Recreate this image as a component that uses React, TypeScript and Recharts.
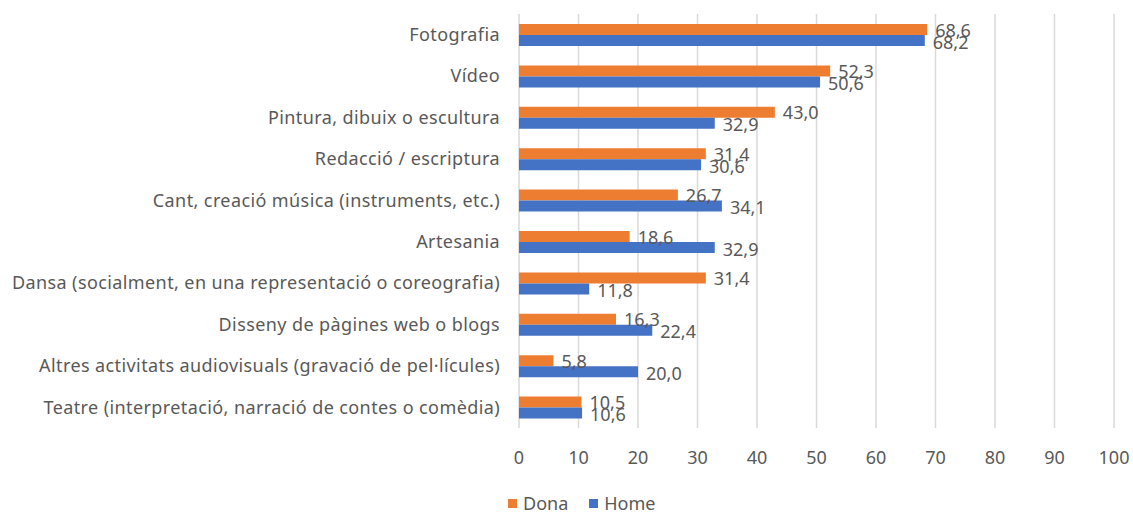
import { BarChart, Bar, XAxis, YAxis, CartesianGrid, Legend, LabelList } from "recharts";

const categories = [
  "Fotografia",
  "Vídeo",
  "Pintura, dibuix o escultura",
  "Redacció / escriptura ",
  "Cant, creació música (instruments, etc.)",
  "Artesania",
  "Dansa (socialment, en una representació o coreografia)",
  "Disseny de pàgines web o blogs",
  "Altres activitats audiovisuals (gravació de pel·lícules)",
  "Teatre (interpretació, narració de contes o comèdia)",
];
const dona = [68.6, 52.3, 43.0, 31.4, 26.7, 18.6, 31.4, 16.3, 5.8, 10.5];
const home = [68.2, 50.6, 32.9, 30.6, 34.1, 32.9, 11.8, 22.4, 20.0, 10.6];
const xTicks = [0, 10, 20, 30, 40, 50, 60, 70, 80, 90, 100];

const ORANGE = "#ED7D31";
const BLUE = "#4472C4";
const TEXT = "#595959";
const FONT = "'Noto Sans', sans-serif";
const FS = 18;

const data = categories.map((name, i) => ({ name, Dona: dona[i], Home: home[i] }));

const fmt = (v: number) => v.toFixed(1).replace(".", ",");

function valueLabel(dy: number) {
  return (props: any) => {
    const { x, y, width, height, value } = props;
    return (
      <text
        x={x + width + 8}
        y={y + height / 2 + dy}
        fill={TEXT}
        fontSize={FS}
        fontFamily={FONT}
        dominantBaseline="central"
      >
        {fmt(value)}
      </text>
    );
  };
}

function LegendContent() {
  const items = [
    { label: "Dona", color: ORANGE },
    { label: "Home", color: BLUE },
  ];
  return (
    <div style={{ display: "flex", alignItems: "center", height: 36, paddingLeft: 508, fontFamily: FONT, fontSize: FS, color: TEXT }}>
      {items.map((it) => (
        <div key={it.label} style={{ display: "flex", alignItems: "center", marginRight: 21, marginTop: 14 }}>
          <span style={{ width: 9, height: 9, background: it.color, display: "inline-block", marginRight: 6 }} />
          <span>{it.label}</span>
        </div>
      ))}
    </div>
  );
}

export default function App() {
  return (
    <div style={{ position: "absolute", left: 0, top: 0, width: 1133, height: 514, background: "#fff" }}>
      <BarChart
        width={1133}
        height={514}
        data={data}
        layout="vertical"
        margin={{ top: 14, right: 19, bottom: 0, left: 0 }}
        barSize={11}
        barGap={0}
      >
        <CartesianGrid horizontal={false} stroke="#D9D9D9" strokeWidth={1.5} />
        <XAxis
          type="number"
          domain={[0, 100]}
          ticks={xTicks}
          axisLine={false}
          tickLine={false}
          tickSize={0}
          tickMargin={23}
          height={50}
          tick={{ fill: TEXT, fontSize: FS, fontFamily: FONT }}
        />
        <YAxis
          type="category"
          dataKey="name"
          width={519}
          axisLine={false}
          tickLine={false}
          tickSize={0}
          tickMargin={19}
          interval={0}
          tick={{ fill: TEXT, fontSize: FS, fontFamily: FONT, letterSpacing: 0.4 }}
        />
        <Legend verticalAlign="bottom" wrapperStyle={{ left: 0, width: 1133, height: 36 }} content={<LegendContent />} />
        <Bar dataKey="Dona" fill={ORANGE} isAnimationActive={false}>
          <LabelList dataKey="Dona" content={valueLabel(0)} />
        </Bar>
        <Bar dataKey="Home" fill={BLUE} isAnimationActive={false}>
          <LabelList dataKey="Home" content={valueLabel(1)} />
        </Bar>
      </BarChart>
    </div>
  );
}
